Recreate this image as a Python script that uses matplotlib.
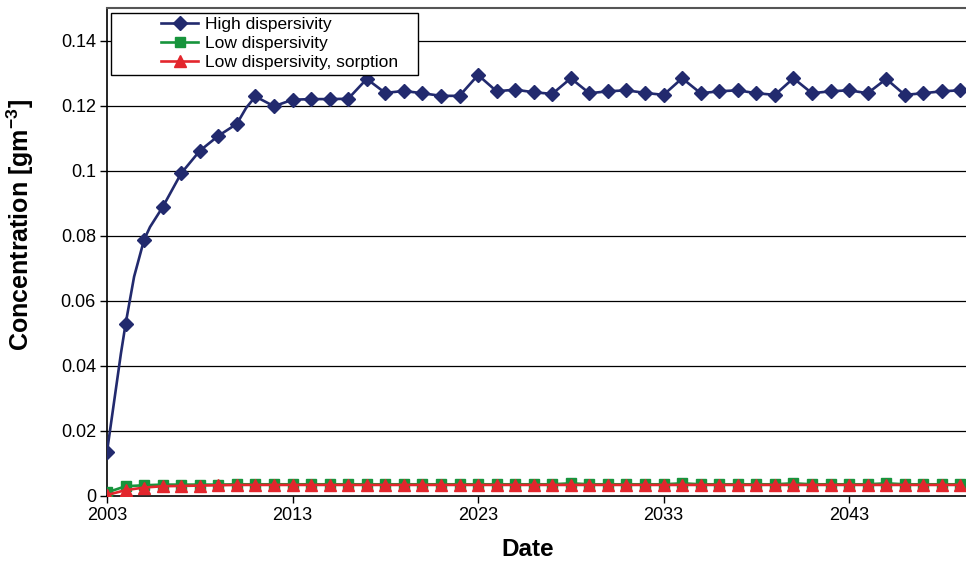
import matplotlib
matplotlib.use("Agg")
import matplotlib.pyplot as plt
from matplotlib.patches import Rectangle

plt.rcParams['font.family'] = ['Liberation Sans', 'DejaVu Sans']
plt.rcParams['mathtext.fontset'] = 'custom'
plt.rcParams['mathtext.rm'] = 'Liberation Sans'
plt.rcParams['mathtext.bf'] = 'Liberation Sans:bold'

# Annual output years
years = [2003, 2004, 2005, 2006, 2007, 2008, 2009, 2010, 2011, 2012,
         2013, 2014, 2015, 2016, 2017, 2018, 2019, 2020, 2021, 2022,
         2023, 2024, 2025, 2026, 2027, 2028, 2029, 2030, 2031, 2032,
         2033, 2034, 2035, 2036, 2037, 2038, 2039, 2040, 2041, 2042,
         2043, 2044, 2045, 2046, 2047, 2048, 2049]

high_disp = [0.0136, 0.0528, 0.0788, 0.0888, 0.0992, 0.1061, 0.1107, 0.1144, 0.1228, 0.1198,
             0.1218, 0.1220, 0.1220, 0.1221, 0.1282, 0.1239, 0.1245, 0.1238, 0.1230, 0.1230,
             0.1294, 0.1244, 0.1249, 0.1241, 0.1236, 0.1284, 0.1238, 0.1244, 0.1247, 0.1239,
             0.1233, 0.1284, 0.1238, 0.1244, 0.1247, 0.1238, 0.1233, 0.1284, 0.1238, 0.1244,
             0.1247, 0.1238, 0.1282, 0.1233, 0.1238, 0.1244, 0.1247]

# Intermediate (unmarked) model outputs on the high-dispersivity curve
high_extra_years = [2003.75, 2004.46, 2005.32, 2010.5]
high_extra_vals = [0.0438, 0.0674, 0.0827, 0.1193]

low_disp = [0.0011, 0.0030, 0.0033, 0.0035, 0.0035, 0.0035, 0.0035, 0.0036, 0.0036, 0.0036,
            0.0036, 0.0036, 0.0036, 0.0036, 0.0036, 0.0036, 0.0036, 0.0036, 0.0036, 0.0036,
            0.0036, 0.0036, 0.0036, 0.0036, 0.0036, 0.0039, 0.0036, 0.0036, 0.0036, 0.0036,
            0.0036, 0.0039, 0.0036, 0.0036, 0.0036, 0.0036, 0.0036, 0.0039, 0.0036, 0.0036,
            0.0036, 0.0036, 0.0039, 0.0036, 0.0036, 0.0036, 0.0036]

low_disp_sorp = [0.0003, 0.0018, 0.0026, 0.0030, 0.0031, 0.0032, 0.0033, 0.0034, 0.0034, 0.0034,
                 0.0034, 0.0034, 0.0034, 0.0034, 0.0034, 0.0034, 0.0034, 0.0034, 0.0034, 0.0034,
                 0.0034, 0.0034, 0.0034, 0.0034, 0.0034, 0.0034, 0.0034, 0.0034, 0.0034, 0.0034,
                 0.0034, 0.0034, 0.0034, 0.0034, 0.0034, 0.0034, 0.0034, 0.0034, 0.0034, 0.0034,
                 0.0034, 0.0034, 0.0034, 0.0034, 0.0034, 0.0034, 0.0034]

x_ticks = [2003, 2013, 2023, 2033, 2043]
y_ticks = [0, 0.02, 0.04, 0.06, 0.08, 0.1, 0.12, 0.14]
y_tick_labels = ["0", "0.02", "0.04", "0.06", "0.08", "0.1", "0.12", "0.14"]

navy = "#222a6e"
green = "#17943c"
red = "#e3262d"

W, H = 966, 565
fig = plt.figure(figsize=(W / 100, H / 100), dpi=100)
ax = fig.add_axes([107 / W, 69 / H, (W - 107) / W, 488 / H])

# merge the annual and intermediate points of the high-dispersivity run
pairs = sorted(list(zip(years, high_disp)) + list(zip(high_extra_years, high_extra_vals)))
t_high = [p[0] for p in pairs]
c_high = [p[1] for p in pairs]
mark_idx = [i for i, t in enumerate(t_high) if t in years]

ax.plot(t_high, c_high, color=navy, lw=1.9, marker="D", markersize=7,
        markevery=mark_idx, label="High dispersivity", zorder=3)
ax.plot(years, low_disp, color=green, lw=1.9, marker="s", markersize=6.5,
        label="Low dispersivity", zorder=3)
ax.plot(years, low_disp_sorp, color=red, lw=1.9, marker="^", markersize=8.5,
        label="Low dispersivity, sorption", zorder=3)

ax.set_xlim(2003, 2049.3)
ax.set_ylim(0, 0.15)
ax.set_xticks(x_ticks)
ax.set_xticklabels([str(t) for t in x_ticks])
ax.set_yticks(y_ticks)
ax.set_yticklabels(y_tick_labels)
ax.tick_params(axis="both", direction="out", length=5, width=1, labelsize=13, colors="black", pad=3)

for v in y_ticks[1:]:
    ax.axhline(v, color="black", lw=0.9, zorder=1)

for side in ("left", "bottom"):
    ax.spines[side].set_color("black")
    ax.spines[side].set_linewidth(1.2)
ax.spines["top"].set_color("#555555")
ax.spines["top"].set_linewidth(1.5)
ax.spines["right"].set_visible(False)

ax.set_xlabel("Date", fontsize=17.5, fontweight="bold")
ax.set_ylabel(r"Concentration [gm$^{\mathbf{-3}}$]", fontsize=18, fontweight="bold")
ax.xaxis.set_label_coords((528 - 107) / (W - 107), -(550 - 496) / 488)
ax.yaxis.set_label_coords(-(107 - 20) / (W - 107), (496 - 225) / 488)
ax.xaxis.label.set_va("center")
ax.yaxis.label.set_va("center")

# legend box and entries
box = Rectangle((111 / W, 1 - 75 / H), 307 / W, 62 / H, transform=fig.transFigure,
                facecolor="white", edgecolor="black", lw=1.0, zorder=4, clip_on=False)
ax.add_patch(box)
leg = ax.legend(loc="upper left", bbox_to_anchor=(161 / W, 1 - 17 / H),
                bbox_transform=fig.transFigure, frameon=False, fontsize=12.5,
                borderpad=0, borderaxespad=0, handlelength=2.15, handletextpad=0.4,
                labelspacing=0.22)
leg.set_zorder(5)

fig.savefig("out.png", dpi=100)
